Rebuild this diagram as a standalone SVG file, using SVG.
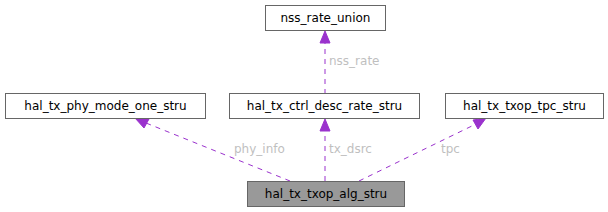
<svg xmlns="http://www.w3.org/2000/svg" width="608" height="212" viewBox="0 0 608 212">
<style>
.box{fill:#fff;stroke:#666;stroke-width:1}
.main{fill:#999;stroke:#666;stroke-width:1}
.t{font-family:"DejaVu Sans",sans-serif;font-size:12px;fill:#000;text-anchor:middle}
.lbl{font-family:"DejaVu Sans",sans-serif;font-size:12px;fill:#bfbfbf}
.e{fill:none;stroke:#9a32cd;stroke-width:1;stroke-dasharray:5,5}
.ah{fill:#9a32cd;stroke:#9a32cd}
</style>
<rect width="608" height="212" fill="#fff"/>
<g id="edges">
<path class="e" d="M290,181 L146,123"/>
<polygon class="ah" points="135,118 149,119 144,128"/>
<text class="lbl" x="234" y="153">phy_info</text>
<path class="e" d="M325,181 L325,130"/>
<polygon class="ah" points="325,119 320,131 330,131"/>
<text class="lbl" x="329" y="153">tx_dsrc</text>
<path class="e" d="M359,181 L476,124"/>
<polygon class="ah" points="486,118 473,120 478,129"/>
<text class="lbl" x="441" y="153">tpc</text>
<path class="e" d="M325,94 L325,42"/>
<polygon class="ah" points="325,31 320,43 330,43"/>
<text class="lbl" x="329" y="65">nss_rate</text>
</g>
<g id="node_alg"><rect class="main" x="247.5" y="181.5" width="157" height="25"/><text class="t" x="326" y="198">hal_tx_txop_alg_stru</text></g>
<g id="node_phy"><rect class="box" x="5.5" y="93.5" width="200" height="25"/><text class="t" x="105.5" y="110">hal_tx_phy_mode_one_stru</text></g>
<g id="node_ctrl"><rect class="box" x="229.5" y="93.5" width="190" height="25"/><text class="t" x="324.5" y="110">hal_tx_ctrl_desc_rate_stru</text></g>
<g id="node_tpc"><rect class="box" x="445.5" y="93.5" width="158" height="25"/><text class="t" x="524.5" y="110">hal_tx_txop_tpc_stru</text></g>
<g id="node_nss"><rect class="box" x="265.5" y="5.5" width="120" height="25"/><text class="t" x="325.5" y="22">nss_rate_union</text></g>
</svg>
